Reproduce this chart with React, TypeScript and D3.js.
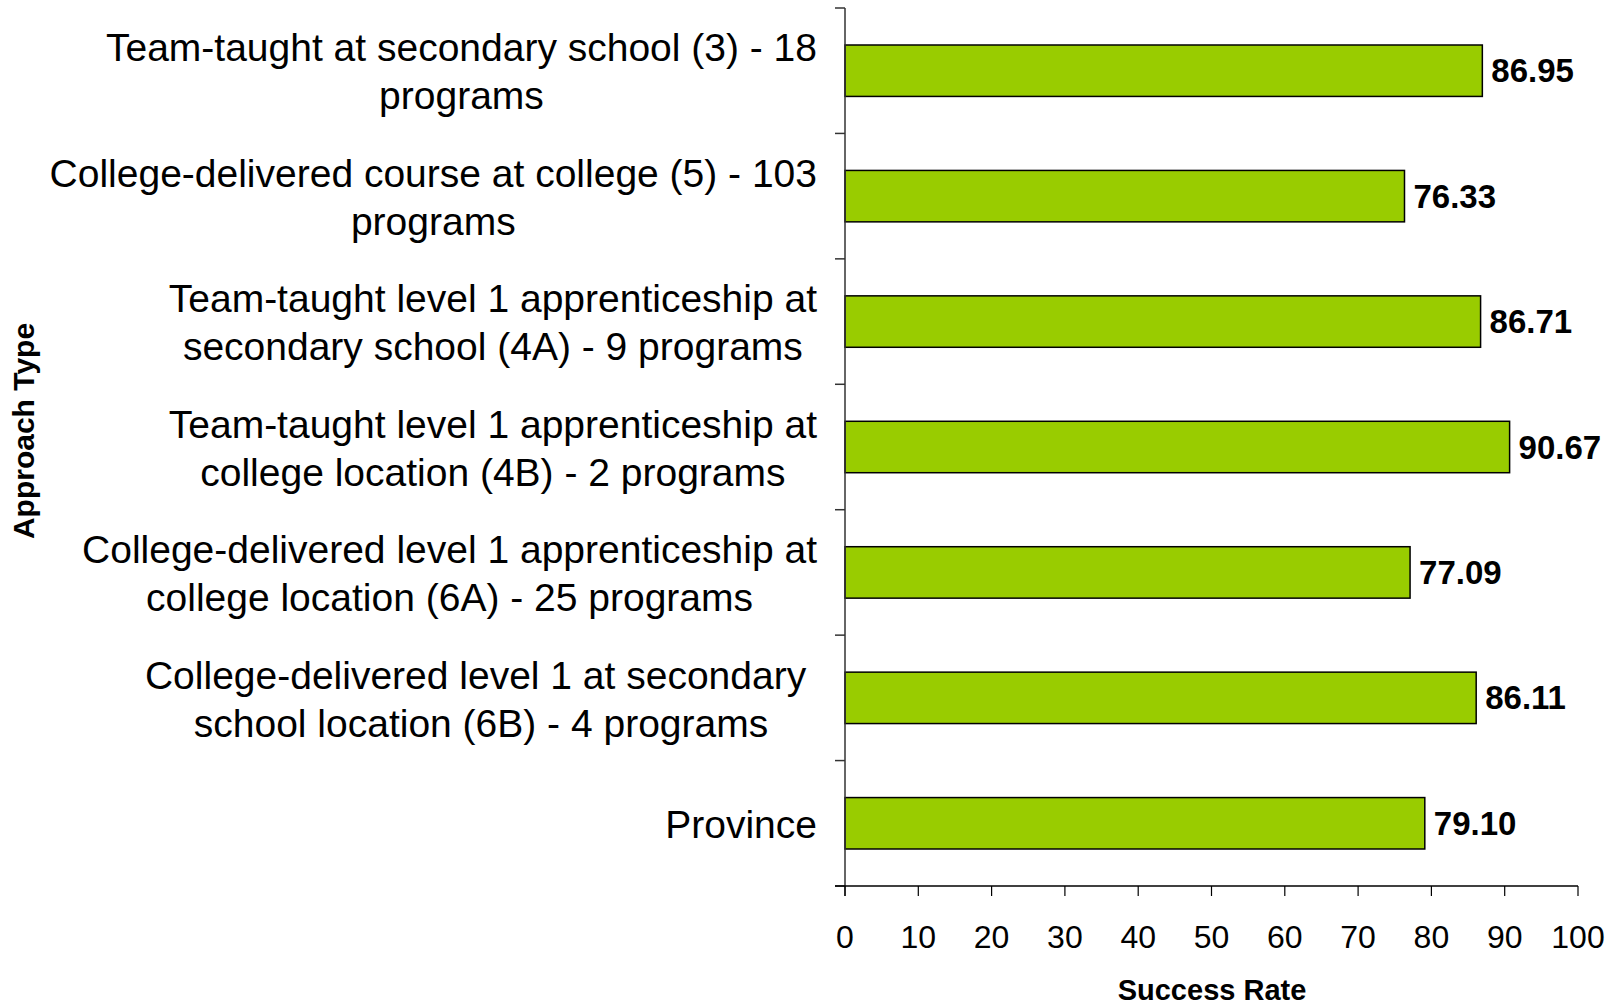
import React, { useEffect, useRef } from "react";
import * as d3 from "d3";

const categories: string[][] = [
  ["Team-taught at secondary school (3) - 18", "programs"],
  ["College-delivered course at college (5) - 103", "programs"],
  ["Team-taught level 1 apprenticeship at", "secondary school (4A) - 9 programs"],
  ["Team-taught level 1 apprenticeship at", "college location (4B) - 2 programs"],
  ["College-delivered level 1 apprenticeship at", "college location (6A) - 25 programs"],
  ["College-delivered level 1 at secondary ", "school location (6B) - 4 programs"],
  ["Province"],
];
const values: number[] = [86.95, 76.33, 86.71, 90.67, 77.09, 86.11, 79.1];
const xTicks: number[] = [0, 10, 20, 30, 40, 50, 60, 70, 80, 90, 100];
const xTitle = "Success Rate";
const yTitle = "Approach Type";

const W = 1615;
const H = 1005;
const FONT = "'Liberation Sans', Arial, sans-serif";

export default function App() {
  const ref = useRef<SVGSVGElement>(null);
  useEffect(() => {
    const svg = d3.select(ref.current);
    svg.selectAll("*").remove();
    const left = 845, right = 1578, top = 8, bottom = 886;
    const x = d3.scaleLinear().domain([0, 100]).range([left, right]);
    const ids = categories.map((_, i) => String(i));
    const y = d3.scaleBand<string>().domain(ids).range([top, bottom]).paddingInner(0.59).paddingOuter(0.295);
    const step = y.step();

    // bars
    svg.append("g").selectAll("rect").data(values).join("rect")
      .attr("x", x(0))
      .attr("y", (_, i) => y(ids[i])!)
      .attr("width", (d) => x(d) - x(0))
      .attr("height", y.bandwidth())
      .attr("fill", "#99CC00")
      .attr("stroke", "#000")
      .attr("stroke-width", 1.5);

    // value labels
    svg.append("g").selectAll("text").data(values).join("text")
      .attr("x", (d) => x(d) + 9)
      .attr("y", (_, i) => y(ids[i])! + y.bandwidth() / 2 + 11.5)
      .attr("font-family", FONT)
      .attr("font-size", 33)
      .attr("font-weight", "bold")
      .attr("fill", "#000")
      .text((d) => d.toFixed(2));

    // y axis line + ticks at band boundaries
    const ya = svg.append("g");
    ya.append("line").attr("x1", left).attr("x2", left).attr("y1", top).attr("y2", bottom + 10)
      .attr("stroke", "#333").attr("stroke-width", 1.5);
    for (let k = 0; k <= categories.length; k++) {
      const yy = top + k * step;
      ya.append("line").attr("x1", left - 10).attr("x2", left).attr("y1", yy).attr("y2", yy)
        .attr("stroke", "#333").attr("stroke-width", 1.5);
    }

    // x axis
    const xa = svg.append("g");
    xa.append("line").attr("x1", left - 10).attr("x2", right).attr("y1", bottom).attr("y2", bottom)
      .attr("stroke", "#000").attr("stroke-width", 1.5);
    xa.selectAll("line.t").data(xTicks).join("line").attr("class", "t")
      .attr("x1", (d) => x(d)).attr("x2", (d) => x(d))
      .attr("y1", bottom).attr("y2", bottom + 10)
      .attr("stroke", "#000").attr("stroke-width", 1.2);
    xa.selectAll("text").data(xTicks).join("text")
      .attr("x", (d) => x(d))
      .attr("y", 948)
      .attr("text-anchor", "middle")
      .attr("font-family", FONT)
      .attr("font-size", 32)
      .attr("fill", "#000")
      .text((d) => String(d));

    // category labels (centered block, right edge at 817)
    const labelRight = 817;
    const lineH = 48;
    const fs = 39;
    categories.forEach((lines, i) => {
      const g = svg.append("g");
      const cy = y(ids[i])! + y.bandwidth() / 2;
      const ts = lines.map((ln, j) =>
        g.append("text")
          .attr("font-family", FONT)
          .attr("font-size", fs)
          .attr("fill", "#000")
          .attr("text-anchor", "middle")
          .style("white-space", "pre")
          .attr("y", cy + (j - (lines.length - 1) / 2) * lineH + fs * 0.35 + 1)
          .text(ln)
      );
      const widths = ts.map((t) => (t.node() as SVGTextElement).getComputedTextLength());
      const bw = Math.max(...widths);
      const cx = labelRight - bw / 2;
      ts.forEach((t) => t.attr("x", cx));
    });

    // axis titles
    svg.append("text")
      .attr("x", 1212)
      .attr("y", 1000)
      .attr("text-anchor", "middle")
      .attr("font-family", FONT)
      .attr("font-size", 29)
      .attr("font-weight", "bold")
      .text(xTitle);
    svg.append("text")
      .attr("transform", `translate(34,431) rotate(-90)`)
      .attr("text-anchor", "middle")
      .attr("font-family", FONT)
      .attr("font-size", 30)
      .attr("font-weight", "bold")
      .text(yTitle);
  }, []);
  return (
    <svg
      ref={ref}
      width={W}
      height={H}
      style={{ position: "absolute", left: 0, top: 0, background: "#fff" }}
    />
  );
}
